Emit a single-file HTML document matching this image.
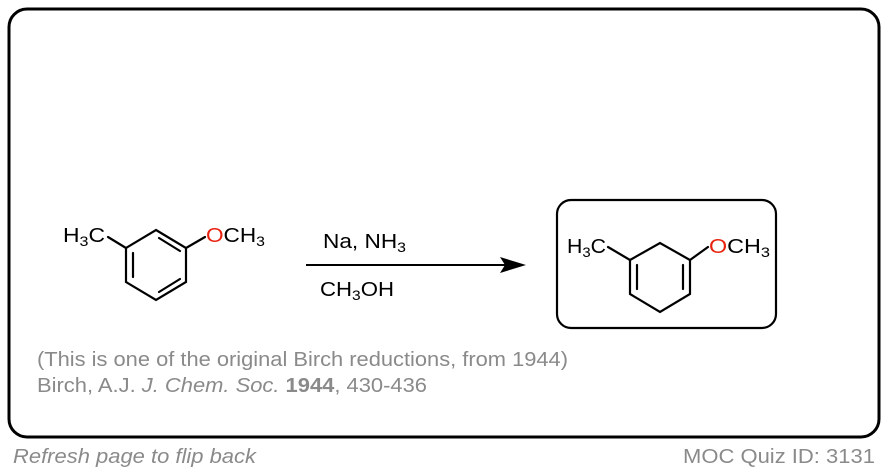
<!DOCTYPE html>
<html><head><style>
html,body{margin:0;padding:0;background:#fff;}
svg{display:block;}
text{font-family:"Liberation Sans",Arial,sans-serif;}
</style></head><body>
<svg width="888" height="472" viewBox="0 0 888 472" xmlns="http://www.w3.org/2000/svg">
<rect x="9" y="9" width="870" height="428" rx="18" fill="#fff" stroke="#000" stroke-width="3"/>
<g stroke="#000" stroke-width="2.2" fill="none" stroke-linecap="round">
<polygon points="156,230 186,248 186,282 156,300 126,282 126,248"/>
<line x1="133" y1="253" x2="133" y2="277"/>
<line x1="159" y1="238" x2="180" y2="251"/>
<line x1="159" y1="292" x2="180" y2="279"/>
<line x1="126" y1="248" x2="108" y2="237"/>
<line x1="186" y1="248" x2="205" y2="237"/>
<polyline points="630,260 660,243 690,260 690,294 660,312 630,294 630,260"/>
<line x1="637" y1="265" x2="637" y2="289"/>
<line x1="683" y1="265" x2="683" y2="289"/>
<line x1="630" y1="260" x2="608" y2="247"/>
<line x1="690" y1="260" x2="708" y2="247"/>
</g>
<rect x="557" y="200" width="219" height="128" rx="14" fill="none" stroke="#000" stroke-width="2.2"/>
<line x1="306" y1="265" x2="505" y2="265" stroke="#000" stroke-width="2"/>
<polygon points="526,265 500,257 505,265 500,273" fill="#000"/>
<g font-size="20" fill="#000">
<text x="63" y="242" textLength="42" lengthAdjust="spacingAndGlyphs">H<tspan font-size="14" dy="4">3</tspan><tspan dy="-4">C</tspan></text>
<text x="206" y="242" textLength="59" lengthAdjust="spacingAndGlyphs"><tspan fill="#e8220f">O</tspan>CH<tspan font-size="14" dy="4">3</tspan></text>
<text x="567" y="253" textLength="39" lengthAdjust="spacingAndGlyphs">H<tspan font-size="14" dy="4">3</tspan><tspan dy="-4">C</tspan></text>
<text x="709" y="253" textLength="61" lengthAdjust="spacingAndGlyphs"><tspan fill="#e8220f">O</tspan>CH<tspan font-size="14" dy="4">3</tspan></text>
<text x="323" y="248" textLength="83" lengthAdjust="spacingAndGlyphs">Na, NH<tspan font-size="14" dy="4">3</tspan></text>
<text x="320" y="296" textLength="74" lengthAdjust="spacingAndGlyphs">CH<tspan font-size="14" dy="4">3</tspan><tspan dy="-4">OH</tspan></text>
</g>
<g font-size="20" fill="#8a8a8a">
<text x="37" y="366" textLength="531" lengthAdjust="spacingAndGlyphs">(This is one of the original Birch reductions, from 1944)</text>
<text x="37" y="392" textLength="390" lengthAdjust="spacingAndGlyphs">Birch, A.J. <tspan font-style="italic">J. Chem. Soc.</tspan> <tspan font-weight="bold">1944</tspan>, 430-436</text>
<text x="13" y="463" font-style="italic" textLength="243" lengthAdjust="spacingAndGlyphs">Refresh page to flip back</text>
<text x="683" y="463" textLength="192" lengthAdjust="spacingAndGlyphs">MOC Quiz ID: 3131</text>
</g>
</svg>
</body></html>
